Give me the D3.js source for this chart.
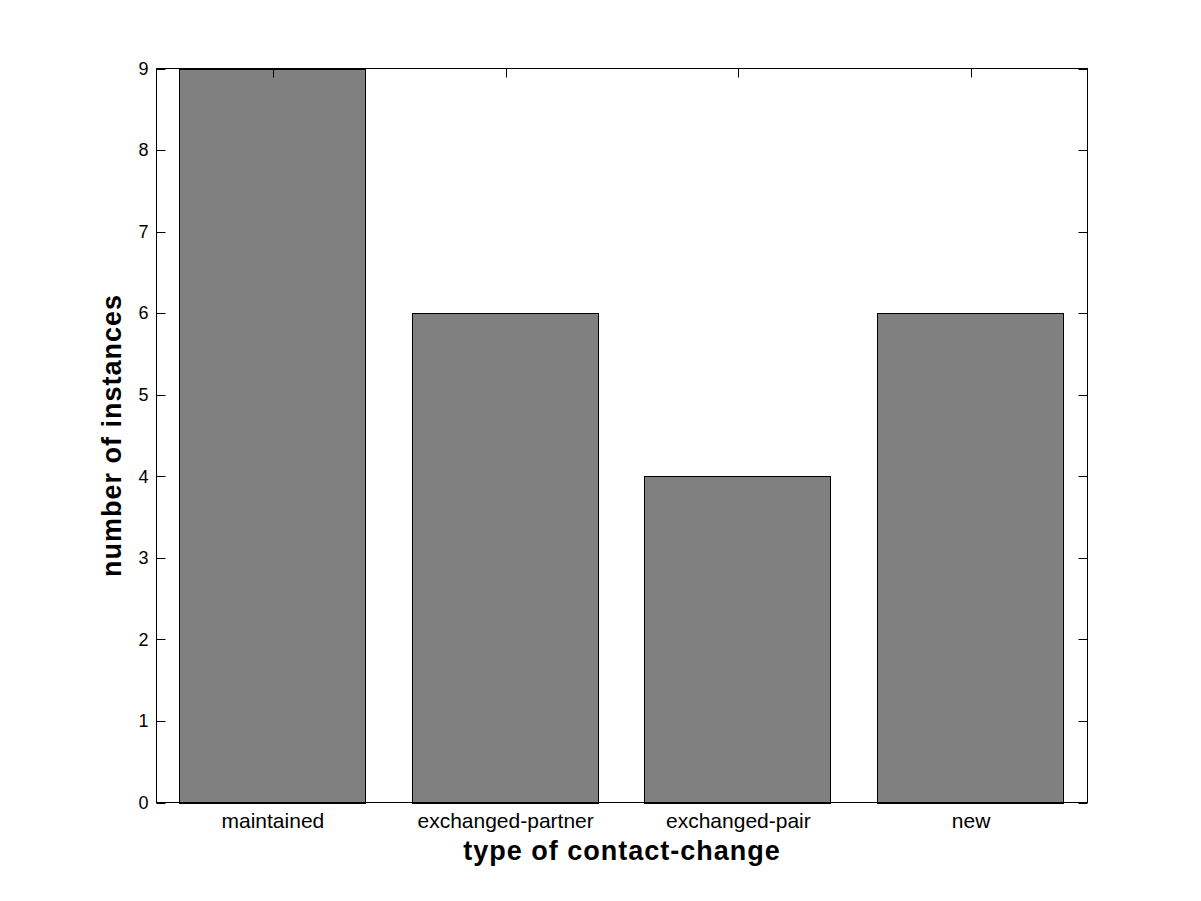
<!DOCTYPE html>
<html>
<head>
<meta charset="utf-8">
<script src="https://cdn.jsdelivr.net/npm/d3@7"></script>
<style>
  html, body { margin: 0; padding: 0; background: #fff; }
  svg { display: block; }
</style>
</head>
<body>
<script>
const categories = ["maintained", "exchanged-partner", "exchanged-pair", "new"];
const values = [9, 6, 4, 6];
const yTicks = [0, 1, 2, 3, 4, 5, 6, 7, 8, 9];
const xLabel = "type of contact-change";
const yLabel = "number of instances";

const W = 1201, H = 901;
const m = { left: 156.5, right: 1087.5, top: 68.5, bottom: 802.5 };

const svg = d3.select("body").append("svg").attr("width", W).attr("height", H);

const x = d3.scaleLinear().domain([0.5, 4.5]).range([m.left, m.right]);
const y = d3.scaleLinear().domain([0, 9]).range([m.bottom, m.top]);
const barW = 0.8;
const font = "'Liberation Sans', Arial, Helvetica, sans-serif";

// bars
svg.append("g").selectAll("rect").data(values).join("rect")
  .attr("x", (d, i) => Math.round(x(i + 1 - barW / 2)) - 0.5)
  .attr("y", d => Math.round(y(d)) + 0.5)
  .attr("width", (d, i) => Math.round(x(i + 1 + barW / 2)) - Math.round(x(i + 1 - barW / 2)))
  .attr("height", d => Math.round(y(0)) - Math.round(y(d)))
  .attr("fill", "#808080")
  .attr("stroke", "#000")
  .attr("stroke-width", 1);

const tickLen = 9;
const g = svg.append("g").attr("stroke", "#000").attr("stroke-width", 1);
// y ticks left and right (inward)
yTicks.forEach(t => {
  const yy = Math.round(y(t)) + 0.5;
  g.append("line").attr("x1", m.left).attr("x2", m.left + tickLen).attr("y1", yy).attr("y2", yy);
  g.append("line").attr("x1", m.right).attr("x2", m.right - tickLen).attr("y1", yy).attr("y2", yy);
});
// x ticks top (inward)
categories.forEach((c, i) => {
  const xx = Math.round(x(i + 1)) + 0.5;
  g.append("line").attr("x1", xx).attr("x2", xx).attr("y1", m.top).attr("y2", m.top + tickLen);
});
// frame
g.append("rect").attr("x", m.left).attr("y", m.top)
  .attr("width", m.right - m.left).attr("height", m.bottom - m.top).attr("fill", "none");

// tick labels
svg.append("g").selectAll("text").data(yTicks).join("text")
  .attr("x", m.left - 8).attr("y", d => y(d))
  .attr("dy", "0.35em")
  .attr("text-anchor", "end")
  .attr("font-family", font).attr("font-size", 18)
  .text(d => d);

svg.append("g").selectAll("text").data(categories).join("text")
  .attr("x", (d, i) => x(i + 1)).attr("y", 828)
  .attr("text-anchor", "middle")
  .attr("font-family", font).attr("font-size", 21)
  .text(d => d);

// axis labels
svg.append("text")
  .attr("x", (m.left + m.right) / 2).attr("y", 860)
  .attr("text-anchor", "middle")
  .attr("font-family", font).attr("font-size", 27).attr("font-weight", "bold")
  .attr("letter-spacing", 1)
  .text(xLabel);

svg.append("text")
  .attr("transform", `translate(121,${(m.top + m.bottom) / 2}) rotate(-90)`)
  .attr("text-anchor", "middle")
  .attr("font-family", font).attr("font-size", 27).attr("font-weight", "bold")
  .attr("letter-spacing", 1)
  .text(yLabel);
</script>
</body>
</html>
